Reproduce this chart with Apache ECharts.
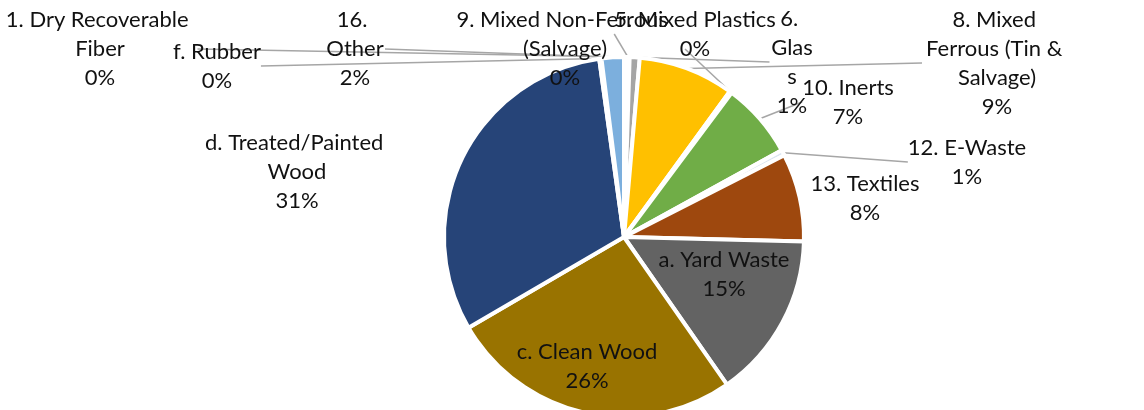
<!DOCTYPE html>
<html>
<head>
<meta charset="utf-8">
<script src="https://cdn.jsdelivr.net/npm/echarts@6/dist/echarts.min.js"></script>
<style>
html,body{margin:0;padding:0;background:#fff;}
#chart{width:1144px;height:410px;}
</style>
</head>
<body>
<div id="chart"></div>
<script>
// ---- data ----
var categories = [
  "1. Dry Recoverable Fiber",
  "5. Mixed Plastics",
  "6. Glass",
  "8. Mixed Ferrous (Tin & Salvage)",
  "9. Mixed Non-Ferrous (Salvage)",
  "10. Inerts",
  "12. E-Waste",
  "13. Textiles",
  "a. Yard Waste",
  "c. Clean Wood",
  "d. Treated/Painted Wood",
  "f. Rubber",
  "16. Other"
];
var values = [0.2, 0.3, 0.9, 8.6, 0.2, 6.8, 0.5, 7.9, 14.9, 26.3, 31.2, 0.2, 2.0];

// ---- styling / layout (not data) ----
var colors = ["#4472C4", "#ED7D31", "#A5A5A5", "#FFC000", "#5B9BD5", "#70AD47",
              "#DCE6F2", "#9E480E", "#636363", "#997300", "#264478", "#43682B", "#7CAFDD"];
var labelPos = [
  [100, 49], [695, 34], [792, 62], [997, 63], [565, 49], [848, 102],
  [967, 162], [865, 198], [724, 274], [587, 366], [297, 172], [217, 66], [355, 49]
];
var labelWidth = [195, null, 45, 150, 240, null, null, null, null, null, 200, null, 60];
var showLine = [true, true, true, true, true, true, true, false, false, false, false, true, true];

var data = categories.map(function (name, i) {
  var item = {
    name: name,
    value: values[i],
    itemStyle: { color: colors[i] },
    labelLine: { show: showLine[i] }
  };
  if (labelWidth[i]) {
    item.label = { width: labelWidth[i], overflow: 'break' };
  }
  return item;
});

var chart = echarts.init(document.getElementById('chart'));
chart.setOption({
  animation: false,
  series: [{
    type: 'pie',
    center: [624, 237],
    radius: 180,
    startAngle: 90,
    clockwise: true,
    avoidLabelOverlap: false,
    data: data,
    itemStyle: { borderColor: '#ffffff', borderWidth: 4 },
    label: {
      show: true,
      position: 'outside',
      fontFamily: 'Lato',
      fontSize: 22,
      lineHeight: 29,
      color: '#111111',
      align: 'center',
      formatter: function (p) {
        return p.name + '\n' + Math.round(p.percent) + '%';
      }
    },
    labelLine: {
      show: true,
      length: 10,
      length2: 0,
      lineStyle: { color: '#a6a6a6', width: 1.5 }
    },
    labelLayout: function (p) {
      var pos = labelPos[p.dataIndex];
      return { x: pos[0], y: pos[1], align: 'center', verticalAlign: 'middle' };
    }
  }]
});
</script>
</body>
</html>
